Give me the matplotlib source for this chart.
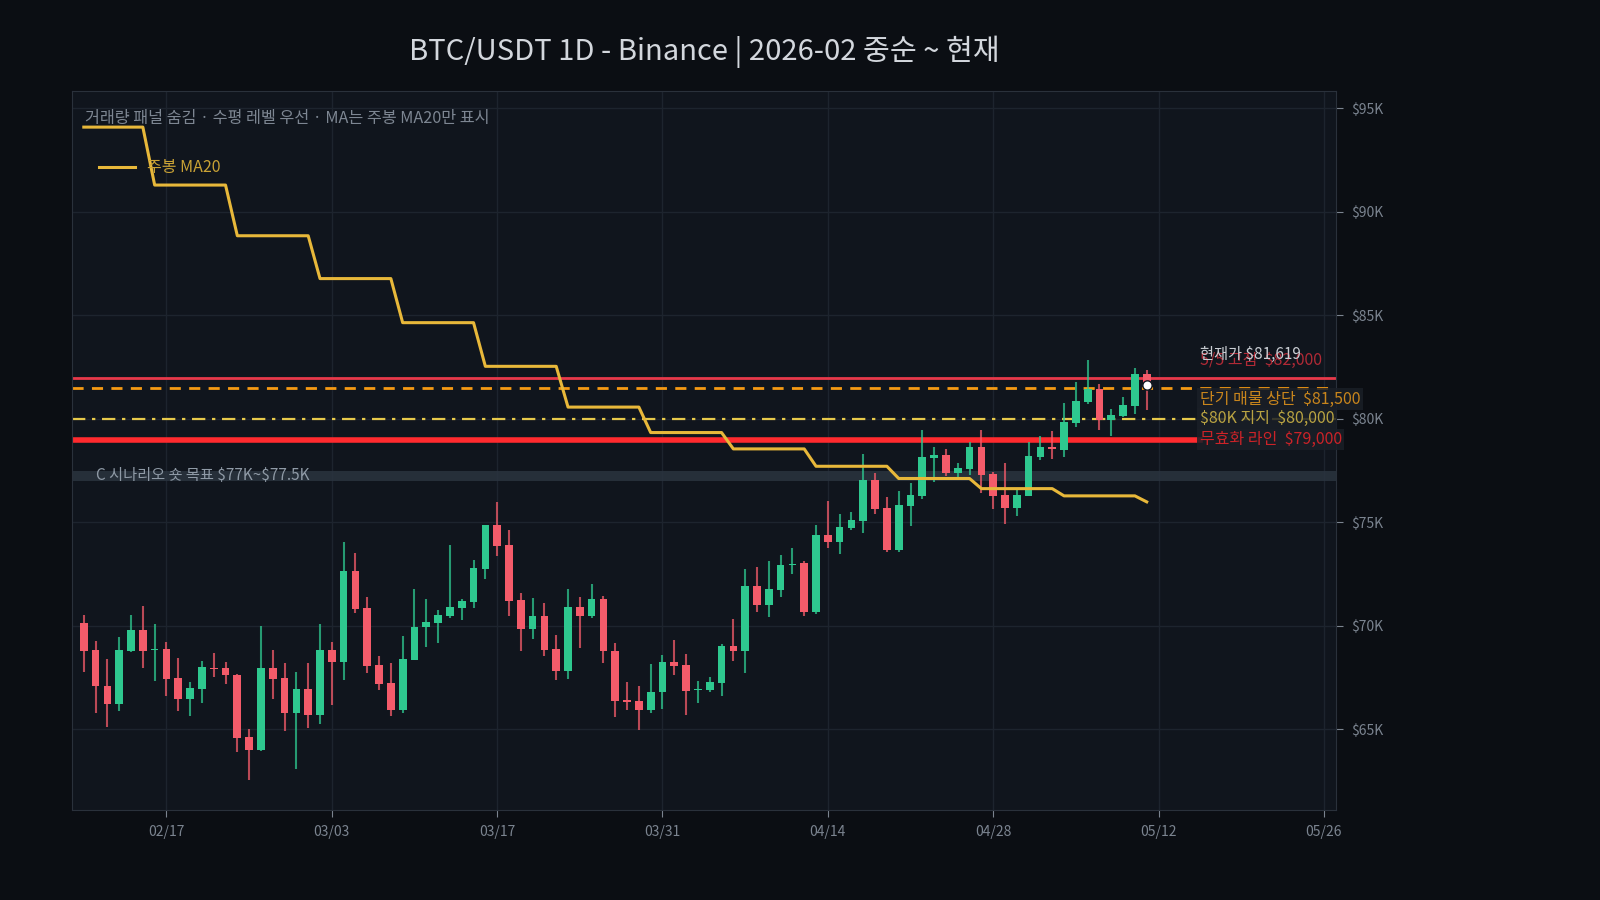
import numpy as np
import pandas as pd
import matplotlib.pyplot as plt
import matplotlib.dates as mdates

# =============================================================================
#  Fonts / colors
# =============================================================================
plt.rcParams["font.family"] = ["Noto Sans CJK KR", "DejaVu Sans"]

BG = "#0b0e13"
PANEL = "#10151d"
GRID = "#1d242e"
UP = "#2ec88f"
DOWN = "#f45b6a"

# =============================================================================
#  Data (daily candles 2026-02-10 .. 2026-05-11)
# =============================================================================
start_date = "2026-02-10"

opens = [70120, 68840, 67100, 66240, 68770, 69800, 68820, 68880, 67480, 66440,
         66950, 67980, 67970, 67630, 64630, 64020, 67970, 67480, 65810, 66950,
         65710, 68840, 68270, 72650, 70860, 68110, 67240, 65950, 68370, 69920,
         70160, 70490, 70880, 71170, 72760, 74870, 73910, 71250, 69870, 70480,
         68880, 67840, 70910, 70490, 71300, 68790, 66420, 66370, 65950, 66780,
         68260, 68110, 66900, 66920, 67260, 69030, 68800, 71930, 71030, 71750,
         72940, 73040, 70690, 74390, 74070, 74740, 75080, 77050, 75690, 73660,
         75810, 76290, 78120, 78250, 77400, 77590, 78640, 77340, 76340, 75710,
         76290, 78160, 78640, 78510, 79810, 80830, 81440, 79960, 80120, 80640,
         82170]
closes = [68800, 67070, 66240, 68840, 69800, 68800, 68850, 67440, 66440, 67000,
          68020, 67920, 67600, 64600, 64020, 67950, 67440, 65810, 66950, 65710,
          68840, 68270, 72650, 70830, 68080, 67210, 65950, 68400, 69950, 70190,
          70530, 70910, 71200, 72800, 74870, 73880, 71220, 69870, 70480, 68850,
          67840, 70910, 70490, 71300, 68760, 66390, 66340, 65950, 66810, 68260,
          68080, 66870, 66950, 67290, 69030, 68800, 71930, 71030, 71780, 72940,
          73010, 70690, 74390, 74070, 74780, 75110, 77050, 75640, 73660, 75840,
          76320, 78160, 78250, 77400, 77630, 78640, 77300, 76290, 75710, 76340,
          78200, 78640, 78540, 79850, 80880, 81440, 79960, 80190, 80670, 82170,
          81619]
highs = [70530, 69270, 68400, 69460, 70530, 70960, 70090, 69220, 68450, 67290,
         68310, 68690, 68260, 67680, 65020, 70000, 68840, 68210, 67770, 68210,
         70090, 69220, 74050, 73520, 71400, 68550, 68210, 69510, 71780, 71300,
         70770, 73910, 71300, 73180, 74870, 75980, 74630, 71590, 71350, 71110,
         69560, 71780, 71400, 72020, 71440, 69170, 67290, 67100, 68160, 68600,
         69320, 68640, 67340, 67530, 69130, 70330, 72750, 72850, 73140, 73420,
         73760, 73140, 74870, 76030, 75410, 75500, 78300, 77380, 76220, 76510,
         76900, 79460, 78640, 78540, 77870, 78880, 79460, 77430, 77870, 76580,
         78880, 79170, 79410, 80760, 81780, 82840, 81680, 80470, 81050, 82460,
         82360]
lows = [67790, 65780, 65130, 65860, 68740, 67980, 67310, 66610, 65860, 65660,
        66290, 67550, 67210, 63880, 62550, 63930, 66470, 64940, 63060, 65080,
        65280, 66150, 67400, 70640, 67740, 66920, 65620, 65810, 68370, 69000,
        69190, 70400, 70300, 70880, 72280, 73390, 70490, 68800, 69380, 68560,
        67360, 67450, 68950, 70400, 68180, 65570, 65950, 64970, 65810, 66000,
        67600, 65710, 66290, 66780, 66630, 68320, 67740, 70690, 70450, 71410,
        72520, 70490, 70590, 73780, 73490, 74630, 74500, 75420, 73580, 73580,
        74840, 76140, 76960, 77250, 77160, 77300, 76430, 75660, 74940, 75320,
        76290, 78030, 78080, 78170, 79620, 80730, 79480, 79190, 80090, 80250,
        80440]

# weekly MA20 (value per week, Monday start)
ma_weeks = ["2026-02-09", "2026-02-16", "2026-02-23", "2026-03-02", "2026-03-09",
            "2026-03-16", "2026-03-23", "2026-03-30", "2026-04-06", "2026-04-13",
            "2026-04-20", "2026-04-27", "2026-05-04", "2026-05-11"]
ma_values = [94100, 91300, 88850, 86780, 84650, 82540, 80570, 79340, 78550,
             77710, 77120, 76630, 76280, 75990]

current_price = 81619
dates = pd.date_range(start_date, periods=len(opens), freq="D")
ma_daily = (pd.Series(ma_values, index=pd.to_datetime(ma_weeks))
            .reindex(dates, method="ffill"))

# =============================================================================
#  Figure
# =============================================================================
fig = plt.figure(figsize=(16, 9), dpi=100, facecolor=BG)
ax = fig.add_axes([0.0453, 0.1, 0.7895, 0.799])
ax.set_facecolor(PANEL)

x = mdates.date2num(dates)
o, c, h, l = map(np.array, (opens, closes, highs, lows))
up = c >= o
cols = np.where(up, UP, DOWN)

ax.vlines(x, l, h, colors=cols, linewidth=1.5, alpha=0.75, zorder=3)
body_lo = np.minimum(o, c)
body_h = np.maximum(np.abs(c - o), 60)
ax.bar(x, body_h, bottom=body_lo, width=0.65, color=cols, zorder=4)

ax.plot(x, ma_daily.values, color="#e8b83a", linewidth=2.2, zorder=5,
        label="주봉 MA20")

# ---- horizontal levels ----
ax.axhspan(77000, 77500, color="#2a343f", alpha=0.85, zorder=1, linewidth=0)
ax.axhline(82000, color="#e8394a", linewidth=2, zorder=2)
ax.axhline(81500, color="#f59a14", linewidth=2, linestyle=(0, (4, 3)), zorder=2)
ax.axhline(80000, color="#e6c94a", linewidth=1.6,
           linestyle=(0, (6, 3, 1.5, 3)), zorder=2)
lab_x = mdates.date2num(pd.Timestamp("2026-05-15 12:00"))
ax.plot([ax.get_xlim()[0] - 100, lab_x], [79000, 79000], color="#ff2a2e",
        linewidth=4, zorder=2)

box = dict(boxstyle="square,pad=0.15", facecolor="#1a1f27", edgecolor="none",
           alpha=0.85)
ax.text(lab_x, 82800, "5/5 고점  \\$82,000", color="#b02a36", fontsize=11.5,
        va="center", zorder=6, clip_on=False)
ax.text(lab_x, 83100, "현재가 \\$81,619", color="#c9cdd3", fontsize=11,
        va="center", zorder=7, clip_on=False)
ax.text(lab_x, 80950, "단기 매물 상단  \\$81,500", color="#c8851c", fontsize=11.5,
        va="center", zorder=6, bbox=box, clip_on=False)
ax.text(lab_x, 80000, "\\$80K 지지  \\$80,000", color="#b9a342", fontsize=11.5,
        va="center", zorder=6, bbox=box, clip_on=False)
ax.text(lab_x, 79000, "무효화 라인  \\$79,000", color="#cc2328", fontsize=11.5,
        va="center", zorder=6, bbox=box, clip_on=False)
ax.text(mdates.date2num(pd.Timestamp("2026-02-11")), 77250,
        "C 시나리오 숏 목표 \\$77K~\\$77.5K", color="#8f9aa6", fontsize=11,
        va="center", zorder=6)

ax.scatter([x[-1]], [current_price], s=45, color="white", edgecolor="#10151d",
           zorder=8)

ax.text(0.01, 0.955, "거래량 패널 숨김 · 수평 레벨 우선 · MA는 주봉 MA20만 표시",
        transform=ax.transAxes, color="#7d8692", fontsize=11.7, zorder=7)
leg = ax.legend(loc="upper left", bbox_to_anchor=(0.01, 0.925), frameon=False,
                fontsize=11.5, handlelength=2.2)
for t in leg.get_texts():
    t.set_color("#c9a235")

# ---- axes ----
ax.set_xlim(mdates.date2num(pd.Timestamp("2026-02-09 01:00")),
            mdates.date2num(pd.Timestamp("2026-05-27 00:00")))
ax.set_ylim(61100, 95850)
ticks = pd.date_range("2026-02-17", "2026-05-26", freq="14D")
ax.set_xticks(mdates.date2num(ticks))
ax.set_xticklabels([d.strftime("%m/%d") for d in ticks])
yt = np.arange(65000, 95001, 5000)
ax.set_yticks(yt)
ax.set_yticklabels([f"${v // 1000}K" for v in yt])
ax.yaxis.tick_right()
ax.tick_params(colors="#7b8490", labelsize=10, length=5, pad=6)
ax.grid(True, color=GRID, linewidth=1)
ax.set_axisbelow(True)
for s in ax.spines.values():
    s.set_color("#2a313b")

ax.set_title("BTC/USDT 1D - Binance | 2026-02 중순 ~ 현재", color="#d3d7dd",
             fontsize=21, pad=22, fontweight="light")

fig.savefig("out.png", dpi=100, facecolor=BG)
